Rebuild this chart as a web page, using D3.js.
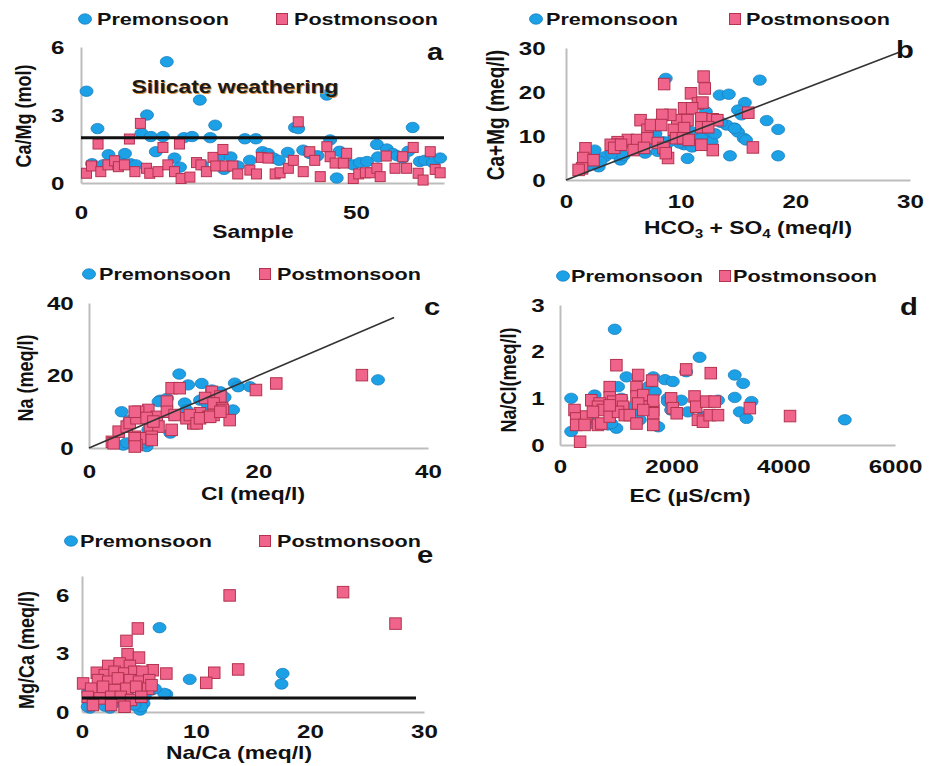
<!DOCTYPE html>
<html><head><meta charset="utf-8">
<script src="https://cdn.jsdelivr.net/npm/d3@7"></script>
<style>
body{margin:0;background:#fff}
svg{font-family:Arial,"Liberation Sans",sans-serif}
</style>
</head><body>
<svg id="chart" width="934" height="766"></svg>
<script>
// values: [x, y]
const preA = [[1,4.05],[2,0.85],[3,2.4],[4,0.8],[5,1.25],[6,0.9],[7,1.0],[8,1.3],[9,0.85],[10,0.8],[11,2.2],[12,3.0],[12.7,2.05],[13.6,1.38],[14.9,2.05],[15.6,5.35],[17,1.1],[18,0.7],[18.7,2.0],[20.2,2.05],[21.6,3.66],[22,0.8],[23.5,2.0],[24.4,2.55],[25,1.1],[26,0.6],[27.2,1.15],[28.5,0.75],[29.8,1.95],[30.7,1.0],[31.8,1.95],[33,1.38],[34,1.3],[35,1.1],[36,1.0],[37.6,1.35],[38.9,2.45],[39.5,2.4],[40.4,1.45],[41.6,1.3],[43,1.2],[44.7,3.88],[45.3,1.9],[46.5,0.22],[47,1.4],[48,1.0],[49.5,0.8],[50.7,0.9],[52,0.95],[53.8,1.7],[54,1.15],[55.6,1.5],[56.7,1.3],[57.5,1.2],[58.5,1.1],[59.5,1.4],[60.3,2.45],[61.6,0.95],[62.5,1.0],[64,0.9],[65.3,1.1]];
const postA = [[1,0.43],[1.9,0.75],[3.1,1.72],[3.6,0.5],[4.9,0.8],[6.1,0.98],[6.8,0.72],[7.9,0.8],[8.8,1.94],[9.8,0.5],[10.8,2.63],[11.9,0.65],[12.5,0.43],[14,0.5],[14.9,1.57],[15.8,0.8],[17,0.5],[17.9,1.72],[18.2,0.2],[19.8,0.26],[21,0.9],[21.8,0.8],[22.8,0.5],[24,1.13],[24.5,0.75],[25.8,1.48],[26.2,0.75],[27.6,0.75],[28.5,0.4],[30.7,0.57],[31.9,0.4],[32.8,1.13],[34,1.1],[35.3,0.4],[36.2,0.45],[37.7,0.65],[38.6,1.0],[39.5,2.7],[40.4,0.5],[41.6,1.38],[42.5,1.0],[43.5,0.28],[44.7,1.6],[45.3,1.16],[46.2,0.88],[47.7,0.88],[48.3,1.31],[49.5,0.2],[50.5,0.4],[51.7,0.45],[52.6,0.45],[53.8,0.65],[54.4,0.28],[55.5,1.19],[57.1,0.65],[58.5,1.16],[59.2,0.65],[60.4,1.57],[61.3,0.43],[62.2,0.13],[63.5,1.38],[64.4,0.6],[65.3,0.45]];

const preB = [[8.7,23.1],[16.9,22.7],[13.4,19.3],[14.2,19.5],[15.6,17.6],[15.0,15.9],[15.3,14.8],[17.5,13.5],[18.5,11.5],[14.7,11.8],[15.0,10.9],[15.5,9.5],[15.7,9.1],[14.3,5.5],[18.5,5.5],[10.6,4.9],[12.2,15.5],[12.4,10.2],[12.7,8.7],[11.5,10.2],[11.8,9.5],[10.3,8.0],[9.9,8.4],[7.7,10.7],[7.8,10.5],[6.9,6.1],[5.8,8.0],[4.75,4.55],[2.7,4.9],[3.4,5.3],[2.85,3.0],[2.5,6.8],[8.5,8.7],[9.0,8.7],[10.9,11.0],[14.0,12.5],[14.7,11.7],[13.5,13.1],[12.0,12.5],[9.5,9.5],[6.0,7.0],[4.0,6.0],[3.0,4.2],[1.5,2.5],[2.0,3.5],[7.0,8.5],[11.0,7.5],[13.0,10.5],[8.0,6.5],[5.0,5.5]];
const postB = [[12.0,23.5],[8.56,21.8],[12.1,20.8],[10.9,19.7],[11.5,17.4],[11.9,17.6],[10.3,16.3],[11.0,16.3],[9.7,13.6],[10.6,13.6],[9.1,14.8],[8.4,14.8],[11.8,14.0],[12.8,13.8],[13.2,13.6],[15.9,15.3],[16.3,7.4],[12.8,6.8],[11.8,8.0],[6.5,13.6],[7.1,11.4],[7.4,12.5],[8.3,12.5],[9.4,11.4],[10.3,11.8],[11.8,12.0],[12.4,12.0],[5.4,9.1],[6.2,9.1],[7.1,9.5],[8.0,8.4],[4.5,8.6],[4.5,8.0],[8.5,7.3],[8.9,5.0],[8.7,6.1],[9.6,9.5],[10.2,9.5],[10.7,9.1],[3.9,8.0],[4.2,7.3],[4.8,8.0],[1.7,7.2],[1.5,5.0],[2.4,4.5],[1.4,2.65],[1.1,2.3],[5.9,6.8],[6.8,7.3]];

const preC = [[10.65,20.4],[11.7,17.4],[13.3,17.8],[17.2,17.9],[17.6,16.9],[19.0,16.9],[8.4,13.2],[9.2,13.7],[11.3,12.4],[11.5,10.5],[3.85,10.0],[4.8,7.7],[17.0,10.5],[9.6,4.1],[4.05,0.8],[5.2,0.8],[6.8,0.4],[13.1,13.2],[14.5,16.0],[15.5,15.5],[34.1,18.8],[8.2,12.8],[4.45,1.4],[6.6,1.4],[8.0,6.0],[10.0,9.0],[12.0,8.0],[14.0,12.0],[15.0,10.0],[6.0,3.0],[7.0,5.0],[16.0,14.0]];
const postC = [[32.2,20.1],[22.1,17.8],[19.7,16.0],[9.75,16.5],[10.7,16.5],[14.5,15.5],[15.5,14.2],[13.7,13.8],[14.7,12.3],[15.7,11.0],[15.8,10.5],[16.6,7.7],[12.3,6.8],[13.1,9.6],[14.1,8.6],[14.7,9.1],[9.2,12.8],[7.0,10.5],[5.8,10.0],[8.0,8.6],[9.2,10.0],[10.1,9.1],[9.75,5.0],[7.2,5.0],[8.2,5.9],[3.5,4.5],[5.4,3.1],[6.6,2.7],[2.7,1.7],[5.6,0.8],[4.45,5.9],[4.8,6.9],[5.6,8.2],[7.4,3.1],[11.5,8.2],[11.9,9.1],[5.4,10.0],[6.8,8.3],[7.6,7.3],[2.9,1.3],[5.4,2.7],[5.4,0.4],[7.4,2.2],[12.7,6.8],[13.1,8.2],[14.3,8.6],[15.5,10.0]];

const preD = [[980,2.48],[2500,1.88],[3130,1.5],[3280,1.32],[3130,1.02],[3430,0.93],[3220,0.71],[3340,0.57],[200,1.0],[200,0.29],[1190,1.46],[1670,1.46],[1880,1.4],[2020,1.36],[2260,1.57],[1040,1.25],[620,1.07],[1100,1.0],[1930,1.0],[2170,0.96],[2830,0.96],[1700,0.43],[1760,0.39],[1340,0.68],[2560,0.61],[860,0.43],[440,0.61],[560,0.46],[1430,0.54],[1580,1.25],[1700,1.14],[1990,0.75],[1190,0.82],[5100,0.54],[1010,0.36],[500,0.54],[920,0.46],[1930,0.93],[2290,0.71]];
const postD = [[1010,1.71],[2260,1.62],[2700,1.54],[1400,1.5],[1650,1.38],[1370,1.24],[890,1.24],[1370,1.04],[1490,1.07],[1550,0.82],[1670,0.75],[1670,0.95],[890,1.02],[950,0.93],[1100,0.96],[1130,0.82],[560,0.96],[710,0.89],[680,0.82],[770,0.75],[260,0.75],[290,0.57],[290,0.43],[470,0.61],[590,0.71],[440,0.43],[680,0.43],[740,0.46],[890,0.61],[1040,0.71],[1160,0.64],[1250,0.64],[1370,0.46],[1670,0.68],[1670,0.43],[360,0.07],[1990,1.0],[2020,0.79],[2090,0.68],[2410,1.04],[2440,0.82],[2620,0.93],[2770,0.93],[2470,0.54],[2560,0.5],[2680,0.64],[2830,0.64],[3400,0.79],[4120,0.62],[1400,0.89],[1490,0.75],[890,0.85]];

const preE = [[6.8,4.34],[9.45,1.68],[17.6,1.98],[17.5,1.44],[7.4,0.92],[0.55,1.04],[0.7,0.2],[2.45,0.2],[4.5,0.36],[5.4,0.44],[5.1,0.1],[6.1,1.13],[7.2,0.96],[5.2,0.27],[4.6,0.36],[0.5,0.27],[1.98,1.04],[2.56,1.68],[3.7,1.38],[6.4,1.2],[1.5,0.6],[3.0,0.5],[4.0,0.9],[2.0,0.3],[5.5,0.8]];
const postE = [[12.95,6.0],[22.9,6.17],[27.5,4.55],[4.9,4.3],[3.9,3.66],[4.0,2.97],[5.0,2.8],[13.7,2.19],[11.6,2.02],[10.9,1.5],[7.4,1.98],[6.2,2.15],[0.1,1.47],[1.3,2.02],[2.3,2.37],[3.3,2.5],[4.2,2.37],[2.0,1.9],[2.86,2.07],[3.7,1.98],[4.6,2.07],[5.3,2.07],[1.4,1.64],[2.3,1.56],[3.15,1.73],[4.2,1.64],[5.0,1.56],[5.9,1.64],[0.8,1.2],[1.85,1.3],[2.86,1.13],[3.9,1.2],[4.75,1.3],[5.8,1.2],[0.5,0.78],[1.55,0.7],[2.56,0.78],[3.4,0.78],[4.3,0.62],[5.2,0.78],[0.96,0.36],[2.56,0.36],[3.73,0.27],[6.1,1.38]];

// reference lines
const lineA = [[0,2],[66,2]];
const lineB = [[0,0],[29,29]];
const lineC = [[0,0],[36,36]];
const lineE = [[0,0.72],[29.3,0.72]];

// ticks
const ticksAx = [0,50], ticksAy = [0,3,6];
const ticksBx = [0,10,20,30], ticksBy = [0,10,20,30];
const ticksCx = [0,20,40], ticksCy = [0,20,40];
const ticksDx = [0,2000,4000,6000], ticksDy = [0,1,2,3];
const ticksEx = [0,10,20,30], ticksEy = [0,3,6];

const seriesNames = ["Premonsoon", "Postmonsoon"];

const SX = 1.27; // the original figure is stretched sideways
const svg = d3.select("#chart");

function txt(g, x, y, s, size, anchor) {
  return g.append("text")
    .attr("transform", `translate(${x},${y}) scale(${SX},1)`)
    .attr("text-anchor", anchor || "start")
    .style("font-size", size + "px")
    .style("font-weight", "bold")
    .attr("fill", "#111")
    .text(s);
}

const panels = [
  {pre: preA, post: postA, line: lineA, lineW: 3, lineC: "#111",
   xDom: [0,66], yDom: [0,6], xR: [81,444], yR: [183,47], xt: ticksAx, yt: ticksAy,
   xPad: 23, yPad: 13, xTitle: "Sample", xT: [253,238], yTitle: "Ca/Mg (mol)", yT: [23,116], ySize: 18,
   letter: "a", lt: [435,60], leg: [85,97,282,294,25], sq: 10},
  {pre: preB, post: postB, line: lineB, lineW: 1.6, lineC: "#333",
   xDom: [0,30], yDom: [0,30], xR: [566,910], yR: [180,48], xt: ticksBx, yt: ticksBy,
   xPad: 15, yPad: 16, xTitle: "HCO3", xT: [748,234], yTitle: "Ca+Mg (meq/l)", yT: [496,115], ySize: 19,
   letter: "b", lt: [905,58], leg: [536,546,735,746,25], sq: 11.5},
  {pre: preC, post: postC, line: lineC, lineW: 1.6, lineC: "#333",
   xDom: [0,40], yDom: [0,40], xR: [89,428], yR: [448,303], xt: ticksCx, yt: ticksCy,
   xPad: 17, yPad: 12, xTitle: "Cl (meq/l)", xT: [253,500], yTitle: "Na (meq/l)", yT: [25,378], ySize: 18,
   letter: "c", lt: [432,315], leg: [89,99,265,277,280], sq: 11.5},
  {pre: preD, post: postD, line: null,
   xDom: [0,6000], yDom: [0,3], xR: [560,895], yR: [445,305], xt: ticksDx, yt: ticksDy,
   xPad: 15, yPad: 12, xTitle: "EC (\u00b5S/cm)", xT: [690,502], yTitle: "Na/Cl(meq/l)", yT: [508,380], ySize: 18,
   letter: "d", lt: [909,315], leg: [563,571,725,733,282], sq: 11.5},
  {pre: preE, post: postE, line: lineE, lineW: 3, lineC: "#111",
   xDom: [0,30], yDom: [0,7], xR: [82,424], yR: [712,576], xt: ticksEx, yt: ticksEy,
   xPad: 13, yPad: 10, xTitle: "Na/Ca (meq/l)", xT: [239,759], yTitle: "Mg/Ca (meq/l)", yT: [26,650], ySize: 18,
   letter: "e", lt: [425,563], leg: [71,80,265,277,547], sq: 11.5}
];

panels.forEach(p => {
  const g = svg.append("g");
  const x = d3.scaleLinear().domain(p.xDom).range(p.xR);
  const y = d3.scaleLinear().domain(p.yDom).range(p.yR);

  const ax = g.append("g").attr("transform", `translate(0,${p.yR[0]})`)
    .call(d3.axisBottom(x).tickValues(p.xt).tickSize(0).tickSizeOuter(0).tickPadding(p.xPad).tickFormat(d3.format("d")));
  const ay = g.append("g").attr("transform", `translate(${p.xR[0]},0)`)
    .call(d3.axisLeft(y).tickValues(p.yt).tickSize(0).tickSizeOuter(0).tickPadding(p.yPad).tickFormat(d3.format("d")));
  [ax, ay].forEach(a => {
    a.select(".domain").attr("stroke", "#bdbdbd").attr("stroke-width", 2);
    a.selectAll("text").style("font-size", "19px").style("font-weight", "bold")
      .attr("fill", "#111").attr("transform", `scale(${SX},1)`);
  });

  // premonsoon circles, then postmonsoon squares on top
  g.append("g").selectAll("ellipse").data(p.pre).join("ellipse")
    .attr("cx", d => x(d[0])).attr("cy", d => y(d[1]))
    .attr("rx", 6.5).attr("ry", 5.2)
    .attr("fill", "#1ca0e6").attr("stroke", "#1a7fbf").attr("stroke-width", 0.8);
  g.append("g").selectAll("rect").data(p.post).join("rect")
    .attr("x", d => x(d[0]) - p.sq / 2).attr("y", d => y(d[1]) - p.sq / 2)
    .attr("width", p.sq).attr("height", p.sq)
    .attr("fill", "#f0648c").attr("stroke", "#b3324f").attr("stroke-width", 1);

  if (p.line) {
    g.append("line")
      .attr("x1", x(p.line[0][0])).attr("y1", y(p.line[0][1]))
      .attr("x2", x(p.line[1][0])).attr("y2", y(p.line[1][1]))
      .attr("stroke", p.lineC).attr("stroke-width", p.lineW);
  }

  // legend
  const [cx, ctx, sx, stx, ly] = p.leg;
  g.append("ellipse").attr("cx", cx).attr("cy", ly - 6).attr("rx", 6.5).attr("ry", 5.2)
    .attr("fill", "#1ca0e6").attr("stroke", "#1a7fbf").attr("stroke-width", 0.8);
  txt(g, ctx, ly, seriesNames[0], 17);
  g.append("rect").attr("x", sx - 5.5).attr("y", ly - 11.5).attr("width", 11).attr("height", 11)
    .attr("fill", "#f0648c").attr("stroke", "#b3324f");
  txt(g, stx, ly, seriesNames[1], 17);

  // panel letter
  txt(g, p.lt[0], p.lt[1], p.letter, 23, "middle");

  // axis titles
  if (p.xTitle === "HCO3") {
    const t = g.append("text")
      .attr("transform", `translate(${p.xT[0]},${p.xT[1]}) scale(${SX},1)`)
      .attr("text-anchor", "middle").style("font-size", "18px").style("font-weight", "bold").attr("fill", "#111");
    t.append("tspan").text("HCO");
    t.append("tspan").attr("dy", 4).style("font-size", "12px").text("3");
    t.append("tspan").attr("dy", -4).text(" + SO");
    t.append("tspan").attr("dy", 4).style("font-size", "12px").text("4");
    t.append("tspan").attr("dy", -4).text(" (meq/l)");
  } else {
    txt(g, p.xT[0], p.xT[1], p.xTitle, 18, "middle");
  }
  g.append("text")
    .attr("transform", `translate(${p.yT[0]},${p.yT[1]}) scale(${SX},1) rotate(-90)`)
    .attr("text-anchor", "middle").attr("dy", "0.35em")
    .style("font-size", p.ySize + "px").style("font-weight", "bold").attr("fill", "#111")
    .text(p.yTitle);
});

// annotation in panel a
const silX = 235, silY = 93;
txt(svg, silX + 1, silY + 1, "Silicate weathering", 18, "middle").attr("fill", "#d08a3a");
txt(svg, silX, silY, "Silicate weathering", 18, "middle").attr("fill", "#1a1a1a");
</script>
</body></html>
